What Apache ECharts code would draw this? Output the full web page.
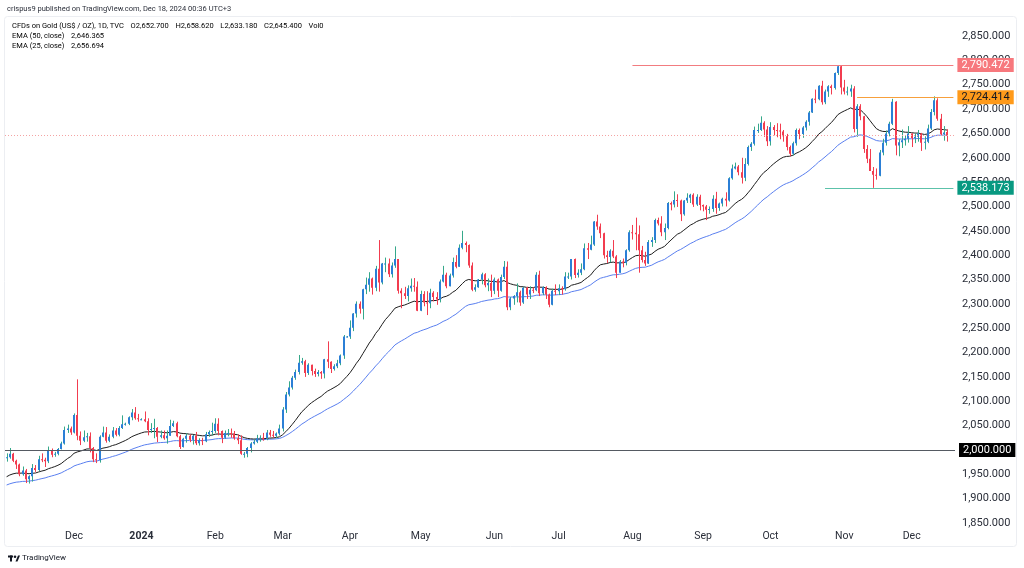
<!DOCTYPE html>
<html><head><meta charset="utf-8">
<script src="https://cdn.jsdelivr.net/npm/echarts/dist/echarts.min.js"></script>
<style>html,body{margin:0;padding:0;background:#fff}#c{width:1024px;height:568px}</style>
</head><body><div id="c"></div>
<script>
// ---- categories: daily bars (TVC gold, weekdays) ----
const dates = [
'2023-11-02','2023-11-03','2023-11-06','2023-11-07','2023-11-08','2023-11-09','2023-11-10','2023-11-13','2023-11-14','2023-11-15','2023-11-16','2023-11-17','2023-11-20','2023-11-21','2023-11-22','2023-11-23','2023-11-24','2023-11-27','2023-11-28','2023-11-29','2023-11-30',
'2023-12-01','2023-12-04','2023-12-05','2023-12-06','2023-12-07','2023-12-08','2023-12-11','2023-12-12','2023-12-13','2023-12-14','2023-12-15','2023-12-18','2023-12-19','2023-12-20','2023-12-21','2023-12-22','2023-12-25','2023-12-26','2023-12-27','2023-12-28','2023-12-29',
'2024-01-01','2024-01-02','2024-01-03','2024-01-04','2024-01-05','2024-01-08','2024-01-09','2024-01-10','2024-01-11','2024-01-12','2024-01-15','2024-01-16','2024-01-17','2024-01-18','2024-01-19','2024-01-22','2024-01-23','2024-01-24','2024-01-25','2024-01-26','2024-01-29','2024-01-30','2024-01-31',
'2024-02-01','2024-02-02','2024-02-05','2024-02-06','2024-02-07','2024-02-08','2024-02-09','2024-02-12','2024-02-13','2024-02-14','2024-02-15','2024-02-16','2024-02-19','2024-02-20','2024-02-21','2024-02-22','2024-02-23','2024-02-26','2024-02-27','2024-02-28','2024-02-29',
'2024-03-01','2024-03-04','2024-03-05','2024-03-06','2024-03-07','2024-03-08','2024-03-11','2024-03-12','2024-03-13','2024-03-14','2024-03-15','2024-03-18','2024-03-19','2024-03-20','2024-03-21','2024-03-22','2024-03-25','2024-03-26','2024-03-27','2024-03-28','2024-03-29',
'2024-04-01','2024-04-02','2024-04-03','2024-04-04','2024-04-05','2024-04-08','2024-04-09','2024-04-10','2024-04-11','2024-04-12','2024-04-15','2024-04-16','2024-04-17','2024-04-18','2024-04-19','2024-04-22','2024-04-23','2024-04-24','2024-04-25','2024-04-26','2024-04-29','2024-04-30',
'2024-05-01','2024-05-02','2024-05-03','2024-05-06','2024-05-07','2024-05-08','2024-05-09','2024-05-10','2024-05-13','2024-05-14','2024-05-15','2024-05-16','2024-05-17','2024-05-20','2024-05-21','2024-05-22','2024-05-23','2024-05-24','2024-05-27','2024-05-28','2024-05-29','2024-05-30','2024-05-31',
'2024-06-03','2024-06-04','2024-06-05','2024-06-06','2024-06-07','2024-06-10','2024-06-11','2024-06-12','2024-06-13','2024-06-14','2024-06-17','2024-06-18','2024-06-19','2024-06-20','2024-06-21','2024-06-24','2024-06-25','2024-06-26','2024-06-27','2024-06-28',
'2024-07-01','2024-07-02','2024-07-03','2024-07-04','2024-07-05','2024-07-08','2024-07-09','2024-07-10','2024-07-11','2024-07-12','2024-07-15','2024-07-16','2024-07-17','2024-07-18','2024-07-19','2024-07-22','2024-07-23','2024-07-24','2024-07-25','2024-07-26','2024-07-29','2024-07-30','2024-07-31',
'2024-08-01','2024-08-02','2024-08-05','2024-08-06','2024-08-07','2024-08-08','2024-08-09','2024-08-12','2024-08-13','2024-08-14','2024-08-15','2024-08-16','2024-08-19','2024-08-20','2024-08-21','2024-08-22','2024-08-23','2024-08-26','2024-08-27','2024-08-28','2024-08-29','2024-08-30',
'2024-09-02','2024-09-03','2024-09-04','2024-09-05','2024-09-06','2024-09-09','2024-09-10','2024-09-11','2024-09-12','2024-09-13','2024-09-16','2024-09-17','2024-09-18','2024-09-19','2024-09-20','2024-09-23','2024-09-24','2024-09-25','2024-09-26','2024-09-27','2024-09-30',
'2024-10-01','2024-10-02','2024-10-03','2024-10-04','2024-10-07','2024-10-08','2024-10-09','2024-10-10','2024-10-11','2024-10-14','2024-10-15','2024-10-16','2024-10-17','2024-10-18','2024-10-21','2024-10-22','2024-10-23','2024-10-24','2024-10-25','2024-10-28','2024-10-29','2024-10-30','2024-10-31',
'2024-11-01','2024-11-04','2024-11-05','2024-11-06','2024-11-07','2024-11-08','2024-11-11','2024-11-12','2024-11-13','2024-11-14','2024-11-15','2024-11-18','2024-11-19','2024-11-20','2024-11-21','2024-11-22','2024-11-25','2024-11-26','2024-11-27','2024-11-28','2024-11-29',
'2024-12-02','2024-12-03','2024-12-04','2024-12-05','2024-12-06','2024-12-09','2024-12-10','2024-12-11','2024-12-12','2024-12-13','2024-12-16','2024-12-17'
];
// ---- series values: [open, high, low, close] ----
const ohlc = [
// Nov 2023
[1983,1993,1976,1985],[1985,2004,1982,1992],[1992,1994,1975,1978],[1978,1980,1961,1970],[1970,1972,1946,1950],[1950,1966,1947,1958],[1958,1961,1932,1940],[1940,1948,1931,1946],[1946,1971,1935,1963],[1963,1969,1955,1959],[1959,1988,1956,1981],[1981,1993,1975,1980],[1980,1984,1965,1977],[1977,2007,1973,1998],[1998,2003,1985,1990],[1990,1996,1986,1992],[1992,2004,1989,2002],[2002,2017,2001,2013],[2013,2048,2011,2041],[2041,2052,2035,2044],[2044,2048,2031,2036],
// Dec 2023
[2036,2075,2034,2072],[2072,2145,2020,2029],[2029,2038,2010,2019],[2019,2040,2016,2026],[2026,2035,2017,2028],[2028,2036,1995,2004],[2004,2006,1975,1981],[1981,1993,1973,1979],[1979,2030,1974,2027],[2027,2048,2026,2036],[2036,2047,2015,2019],[2019,2032,2016,2027],[2027,2047,2024,2040],[2040,2045,2028,2031],[2031,2049,2028,2045],[2045,2071,2043,2053],[2053,2056,2050,2054],[2054,2069,2051,2067],[2067,2084,2061,2077],[2077,2088,2062,2065],[2065,2074,2058,2063],
// Jan 2024
[2063,2065,2061,2063],[2063,2079,2057,2059],[2059,2065,2030,2041],[2041,2055,2035,2043],[2043,2064,2024,2045],[2045,2047,2016,2027],[2027,2040,2024,2030],[2030,2040,2021,2024],[2024,2040,2013,2029],[2029,2062,2029,2049],[2049,2060,2047,2055],[2055,2058,2026,2028],[2028,2031,2002,2006],[2006,2025,2005,2023],[2023,2034,2015,2029],[2029,2032,2016,2021],[2021,2031,2011,2029],[2029,2037,2010,2014],[2014,2024,2009,2020],[2020,2025,2010,2018],[2018,2037,2016,2032],[2032,2040,2027,2037],[2037,2056,2030,2039],
// Feb 2024
[2039,2065,2035,2054],[2054,2065,2030,2039],[2039,2040,2014,2025],[2025,2040,2023,2035],[2035,2043,2028,2035],[2035,2044,2025,2034],[2034,2039,2021,2024],[2024,2032,2012,2020],[2020,2030,1990,1992],[1992,1996,1984,1992],[1992,2006,1985,2004],[2004,2016,1995,2013],[2013,2022,2011,2017],[2017,2031,2014,2024],[2024,2030,2017,2025],[2025,2035,2019,2024],[2024,2041,2020,2036],[2036,2041,2027,2031],[2031,2039,2025,2029],[2029,2036,2024,2034],[2034,2052,2030,2044],
// Mar 2024
[2044,2088,2038,2083],[2083,2119,2076,2114],[2114,2141,2110,2128],[2128,2152,2124,2148],[2148,2165,2144,2160],[2160,2195,2155,2179],[2179,2189,2175,2182],[2182,2185,2150,2158],[2158,2178,2154,2175],[2175,2175,2153,2162],[2162,2167,2150,2156],[2156,2164,2151,2160],[2160,2162,2146,2157],[2157,2187,2147,2186],[2186,2223,2168,2181],[2181,2182,2158,2166],[2166,2176,2163,2172],[2172,2185,2168,2178],[2178,2196,2174,2194],[2194,2236,2187,2233],[2233,2234,2231,2233],
// Apr 2024
[2233,2266,2228,2251],[2251,2281,2244,2280],[2280,2305,2272,2300],[2300,2305,2280,2290],[2290,2331,2268,2330],[2330,2354,2320,2339],[2339,2365,2325,2352],[2352,2354,2319,2333],[2333,2378,2326,2372],[2372,2431,2325,2344],[2344,2384,2340,2383],[2383,2395,2365,2383],[2383,2393,2355,2361],[2361,2385,2354,2379],[2379,2418,2374,2392],[2392,2392,2321,2327],[2327,2332,2291,2322],[2322,2335,2310,2316],[2316,2338,2305,2332],[2332,2352,2325,2337],[2337,2353,2325,2335],[2335,2346,2285,2286],
// May 2024
[2286,2327,2285,2320],[2320,2326,2295,2303],[2303,2326,2277,2301],[2301,2331,2291,2323],[2323,2326,2305,2314],[2314,2324,2298,2309],[2309,2350,2303,2346],[2346,2378,2344,2360],[2360,2364,2332,2336],[2336,2362,2336,2358],[2358,2395,2354,2386],[2386,2400,2373,2376],[2376,2422,2376,2415],[2415,2450,2412,2425],[2425,2428,2406,2421],[2421,2422,2374,2379],[2379,2385,2326,2329],[2329,2340,2325,2334],[2334,2351,2333,2350],[2350,2364,2340,2361],[2361,2363,2334,2338],[2338,2352,2326,2343],[2343,2360,2314,2327],
// Jun 2024
[2327,2354,2320,2350],[2350,2352,2314,2327],[2327,2360,2325,2355],[2355,2388,2351,2376],[2376,2387,2287,2293],[2293,2314,2287,2311],[2311,2318,2298,2316],[2316,2342,2303,2324],[2324,2327,2296,2303],[2303,2335,2300,2333],[2333,2335,2310,2319],[2319,2336,2310,2329],[2329,2334,2322,2328],[2328,2365,2326,2360],[2360,2368,2316,2322],[2322,2336,2318,2334],[2334,2336,2310,2319],[2319,2321,2293,2298],[2298,2331,2297,2327],[2327,2340,2318,2326],
// Jul 2024
[2326,2340,2318,2332],[2332,2336,2319,2330],[2330,2365,2327,2356],[2356,2364,2351,2356],[2356,2392,2350,2392],[2392,2393,2353,2359],[2359,2371,2354,2364],[2364,2383,2359,2371],[2371,2424,2369,2414],[2414,2425,2392,2411],[2411,2440,2410,2422],[2422,2470,2419,2469],[2469,2483,2452,2459],[2459,2465,2435,2445],[2445,2446,2393,2400],[2400,2409,2384,2396],[2396,2412,2385,2409],[2409,2431,2394,2397],[2397,2400,2353,2364],[2364,2390,2364,2387],[2387,2393,2375,2384],[2384,2412,2379,2410],[2410,2451,2407,2447],
// Aug 2024
[2447,2462,2432,2446],[2446,2477,2410,2443],[2443,2461,2364,2410],[2410,2419,2385,2390],[2390,2407,2378,2383],[2383,2431,2382,2427],[2427,2437,2417,2431],[2431,2475,2425,2472],[2472,2477,2461,2465],[2465,2480,2439,2447],[2447,2465,2431,2456],[2456,2509,2453,2507],[2507,2510,2492,2504],[2504,2531,2498,2513],[2513,2525,2499,2512],[2512,2514,2470,2484],[2484,2513,2481,2512],[2512,2527,2507,2518],[2518,2526,2507,2524],[2524,2527,2499,2504],[2504,2525,2501,2520],[2520,2524,2492,2503],
// Sep 2024
[2503,2504,2490,2500],[2500,2503,2472,2493],[2493,2500,2485,2495],[2495,2523,2489,2516],[2516,2530,2485,2497],[2497,2508,2491,2506],[2506,2518,2500,2516],[2516,2529,2500,2512],[2512,2560,2510,2558],[2558,2586,2555,2578],[2578,2590,2576,2582],[2582,2585,2564,2570],[2570,2600,2547,2559],[2559,2599,2552,2587],[2587,2625,2584,2622],[2622,2632,2614,2629],[2629,2664,2625,2657],[2657,2670,2651,2657],[2657,2685,2655,2672],[2672,2675,2643,2658],[2658,2665,2624,2634],
// Oct 2024
[2634,2673,2625,2663],[2663,2667,2646,2657],[2657,2671,2642,2656],[2656,2670,2638,2654],[2654,2657,2633,2644],[2644,2649,2615,2622],[2622,2625,2603,2608],[2608,2633,2605,2630],[2630,2660,2625,2657],[2657,2660,2638,2649],[2649,2665,2641,2662],[2662,2677,2656,2674],[2674,2696,2666,2693],[2693,2722,2692,2721],[2721,2740,2712,2720],[2720,2749,2718,2748],[2748,2758,2709,2714],[2714,2740,2710,2736],[2736,2749,2725,2747],[2747,2750,2730,2743],[2743,2775,2740,2774],[2774,2790.472,2770,2788],[2788,2789,2730,2744],
// Nov 2024
[2744,2760,2730,2736],[2736,2746,2728,2736],[2736,2750,2725,2742],[2742,2747,2652,2659],[2659,2710,2643,2706],[2706,2710,2677,2685],[2685,2686,2610,2618],[2618,2626,2589,2598],[2598,2618,2573,2573],[2573,2581,2538.173,2565],[2565,2578,2555,2563],[2563,2616,2562,2611],[2611,2639,2605,2631],[2631,2656,2625,2650],[2650,2674,2644,2670],[2670,2721,2667,2715],[2715,2716,2605,2625],[2625,2638,2603,2632],[2632,2658,2620,2636],[2636,2646,2625,2639],[2639,2665,2631,2650],
// Dec 2024
[2650,2650,2622,2640],[2640,2650,2630,2643],[2643,2657,2633,2650],[2650,2651,2614,2631],[2631,2644,2617,2633],[2633,2668,2630,2660],[2660,2700,2657,2694],[2694,2726,2687,2718],[2718,2722,2676,2680],[2680,2690,2645,2648],[2648,2665,2635,2652],[2652.7,2658.62,2633.18,2645.4]
];
// ---- indicator seeds (EMA values read at the first visible bar) ----
const ema25Seed = 1945;
const ema50Seed = 1928;
// ---- drawn price levels ----
const levelValues = [2790.472, 2724.414, 2538.173];
const levelStarts = ['2024-08-01', '2024-11-07', '2024-10-24'];
const roundLevel = 2000;
const lastPrice = 2645.4;
// ---- axis ticks ----
const yMin = 1850, yMax = 2850, yStep = 50;
const monthNames = ['2024','Feb','Mar','Apr','May','Jun','Jul','Aug','Sep','Oct','Nov','Dec'];
// ---- header texts ----
const headerLine1 = 'crispus9 published on TradingView.com, Dec 18, 2024 00:36 UTC+3';
const symbolText = 'CFDs on Gold (US$ / OZ), 1D, TVC';
const legendOHLC = ['2,652.700','2,658.620','2,633.180','2,645.400','0'];
const ema50Text = '2,646.365', ema25Text = '2,656.694';

const FONT = 'Roboto, "Noto Sans", sans-serif';
const HF = 7.5;
const upColor = '#2b7fd6', downColor = '#f23c4f', wickUp = '#35a88a';
const cats = dates.concat(['', '']);
const closes = ohlc.map(r => r[3]);
function ema(period, seed) {
  const k = 2 / (period + 1); const out = []; let prev = seed;
  for (let i = 0; i < closes.length; i++) {
    if (i > 0) prev = closes[i] * k + prev * (1 - k);
    out.push(+prev.toFixed(3));
  }
  return out;
}
const ema25 = ema(25, ema25Seed), ema50 = ema(50, ema50Seed);
const fmt = v => v.toLocaleString('en-US', {minimumFractionDigits: 3, maximumFractionDigits: 3});
const isMonthStart = i => i > 0 && i < dates.length && dates[i].slice(0, 7) !== dates[i - 1].slice(0, 7);
const lastIdx = cats.length - 1;

function levelLine(v, start, lineColor, boxColor, textColor) {
  return [
    {coord: [dates.indexOf(start), v], lineStyle: {color: lineColor, width: 1, type: 'solid'},
     label: {show: true, position: 'end', distance: 4, formatter: () => fmt(v), color: textColor,
             backgroundColor: boxColor, padding: [2, 4, 1, 4], fontSize: 11, fontFamily: FONT}},
    {coord: [lastIdx, v]}
  ];
}

const chart = echarts.init(document.getElementById('c'));
chart.setOption({
  animation: false,
  backgroundColor: '#ffffff',
  grid: {left: 5, right: 69, top: 36, bottom: 45},
  xAxis: {
    type: 'category', data: cats, boundaryGap: true,
    axisLine: {show: false}, axisTick: {show: false}, splitLine: {show: false},
    axisLabel: {
      interval: (i) => isMonthStart(i), margin: 8,
      fontSize: 10.5, fontFamily: FONT, color: '#2a2e39',
      formatter: (v) => { const m = +v.slice(5, 7); return m === 1 ? '{b|' + v.slice(0, 4) + '}' : monthNames[m - 1]; },
      rich: {b: {fontWeight: 'bold', fontSize: 10.5, fontFamily: FONT, color: '#2a2e39'}}
    }
  },
  yAxis: {
    type: 'value', position: 'right', min: yMin, max: yMax, interval: yStep,
    axisLine: {show: false}, axisTick: {show: false}, splitLine: {show: false},
    axisLabel: {margin: 7, fontSize: 11, fontFamily: FONT, color: '#2a2e39', formatter: fmt}
  },
  graphic: [
    {type: 'rect', shape: {x: 4.5, y: 16.5, width: 1012, height: 530, r: 3}, style: {fill: 'none', stroke: '#eceef2', lineWidth: 1}, silent: true, z: -1},
    {type: 'text', left: 7, top: 5, style: {text: headerLine1, font: HF + 'px ' + FONT, fill: '#2a2e39'}},
    {type: 'text', left: 12, top: 20, style: {
      text: '{n|' + symbolText + '}  {n|O}{r|' + legendOHLC[0] + '}  {n|H}{r|' + legendOHLC[1] + '}  {n|L}{r|' + legendOHLC[2] + '}  {n|C}{r|' + legendOHLC[3] + '}  {n|Vol}{r|' + legendOHLC[4] + '}',
      rich: {n: {fontSize: HF, fontFamily: FONT, color: '#131722'}, r: {fontSize: HF, fontFamily: FONT, color: '#f23645'}}}},
    {type: 'text', left: 12, top: 30, style: {text: '{n|EMA (50, close)}  {b|' + ema50Text + '}',
      rich: {n: {fontSize: HF, fontFamily: FONT, color: '#131722'}, b: {fontSize: HF, fontFamily: FONT, color: '#3a6be8'}}}},
    {type: 'text', left: 12, top: 40, style: {text: '{n|EMA (25, close)}  {b|' + ema25Text + '}',
      rich: {n: {fontSize: HF, fontFamily: FONT, color: '#131722'}, b: {fontSize: HF, fontFamily: FONT, color: '#131722'}}}},
    {type: 'group', left: 8, top: 554, children: [
      {type: 'rect', shape: {x: 0, y: 0, width: 5, height: 2}, style: {fill: '#131722'}},
      {type: 'rect', shape: {x: 2, y: 0, width: 2, height: 6}, style: {fill: '#131722'}},
      {type: 'circle', shape: {cx: 7, cy: 1.3, r: 1.3}, style: {fill: '#131722'}},
      {type: 'polygon', shape: {points: [[7.5, 6], [10, 0], [12, 0], [9.5, 6]]}, style: {fill: '#131722'}},
      {type: 'text', x: 14, y: -1.5, style: {text: 'TradingView', font: '8px ' + FONT, fill: '#131722'}}
    ]}
  ],
  series: [
    {
      name: 'EMA 50', type: 'line', data: ema50, symbol: 'none', smooth: false, z: 3,
      lineStyle: {color: '#5a7ff0', width: 1}
    },
    {
      name: 'EMA 25', type: 'line', data: ema25, symbol: 'none', smooth: false, z: 3,
      lineStyle: {color: '#1e1e1e', width: 1},
      markLine: {
        silent: true, symbol: ['none', 'none'], animation: false,
        data: [
          levelLine(levelValues[0], levelStarts[0], '#f27c80', '#f7787d', '#ffffff'),
          levelLine(levelValues[1], levelStarts[1], '#f7a03c', '#ff9a1a', '#131722'),
          levelLine(levelValues[2], levelStarts[2], '#5cc2aa', '#089981', '#ffffff'),
          {yAxis: roundLevel, lineStyle: {color: '#555a62', width: 1, type: 'solid'},
           label: {show: true, position: 'end', distance: 4, formatter: () => fmt(roundLevel), color: '#ffffff',
                   backgroundColor: '#000000', padding: [2, 4, 1, 4], fontSize: 11, fontFamily: FONT}},
          {yAxis: lastPrice, lineStyle: {color: '#f4a3a3', width: 1, type: [1, 2]}, label: {show: false}}
        ]
      }
    },
    {
      name: 'Gold', type: 'custom', z: 4,
      data: ohlc.map((r, i) => [i, r[0], r[1], r[2], r[3]]),
      encode: {x: 0, y: [1, 2, 3, 4]},
      renderItem: (params, api) => {
        const i = api.value(0), o = api.value(1), h = api.value(2), l = api.value(3), c = api.value(4);
        const pO = api.coord([i, o]), pC = api.coord([i, c]), pH = api.coord([i, h]), pL = api.coord([i, l]);
        const w = api.size([1, 0])[0];
        const bw = Math.max(1, Math.round(w * 0.62));
        const up = c >= o;
        const x0 = Math.round(pO[0] - bw / 2);
        const top = Math.min(pO[1], pC[1]), bot = Math.max(pO[1], pC[1]);
        const xw = x0 + Math.floor(bw / 2) + 0.5;
        return {type: 'group', children: [
          {type: 'line', shape: {x1: xw, y1: pH[1], x2: xw, y2: pL[1]}, style: {stroke: up ? wickUp : downColor, lineWidth: 1}},
          {type: 'rect', shape: {x: x0, y: top, width: bw, height: Math.max(1, bot - top)}, style: {fill: up ? upColor : downColor}}
        ]};
      }
    }
  ]
});
</script></body></html>
